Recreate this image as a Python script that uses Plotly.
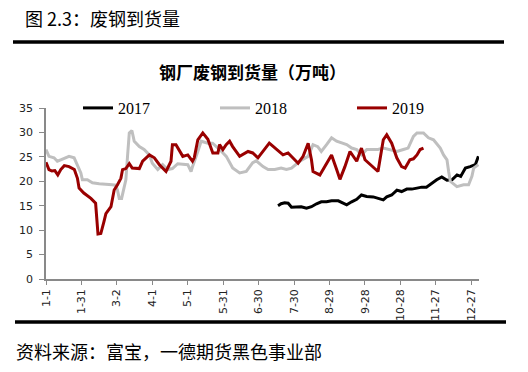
import plotly.graph_objects as go

# ---- data (day-of-year offsets from 1-1, values in 万吨) ----
tick_days = [0, 30, 60, 90, 120, 150, 180, 210, 240, 270, 300, 330, 360]
tick_labels = ["1-1", "1-31", "3-2", "4-1", "5-1", "5-31", "6-30", "7-30",
               "8-29", "9-28", "10-28", "11-27", "12-27"]

days_2017 = [196.4, 199, 202, 205, 207.8, 212, 216, 220.5, 224.7, 229, 233, 237.5,
             241.7, 247.4, 251.6, 254.5, 258.7, 263, 267, 271.4, 277, 281.3, 285.5,
             288.4, 292.6, 297, 301, 305.4, 309.6, 314, 318, 322, 326.4, 330.7, 335,
             339.4, 343.6, 347.9, 351, 355, 359, 363.4, 366]
vals_2017 = [15.0, 15.4, 15.6, 15.5, 14.7, 14.8, 14.8, 14.5, 14.8, 15.4, 15.8, 15.8,
             16.0, 16.0, 15.6, 15.2, 15.8, 16.3, 17.2, 16.9, 16.8, 16.5, 16.2,
             16.8, 17.2, 18.2, 17.9, 18.4, 18.4, 18.6, 18.8, 18.8, 19.6, 20.3, 20.9,
             20.2, 20.3, 21.3, 21.0, 22.7, 23.0, 23.4, 25.1]

days_2018 = [0, 2.5, 6.8, 9.6, 12.5, 16.7, 19.5, 23.8, 26.6, 29.5, 30.8, 35, 39.3, 45,
             56, 59, 60.5, 62, 64, 66.3, 67.6, 69, 70.5, 72.7, 74.7, 79, 83, 87.5, 90,
             94.6, 98.7, 103, 107, 111.5, 117, 120, 122.8, 124, 128.5, 131.3, 137, 141,
             147, 152.6, 158, 163.9, 169.5, 175, 178, 183.7, 188, 193.6, 199, 203.5,
             207.8, 214.8, 221.9, 226, 230, 233, 237.5, 241.7, 246, 250, 254.5, 258.7,
             263, 267, 271.5, 277, 281, 285.5, 291, 297, 302.5, 306.5, 311, 314, 319.5,
             323.7, 328, 333.7, 336.5, 339.4, 340.8, 342.2, 347.8, 353.4, 357.7, 360.5,
             362, 366]
vals_2018 = [26.5, 25.1, 24.8, 24.1, 24.4, 24.8, 25.1, 24.8, 23.4, 21.7, 20.3, 20.3, 19.7, 19.5,
             19.3, 19.2, 18.2, 16.5, 16.5, 18.9, 20.3, 25.1, 29.9, 30.4, 28.2, 27.1, 26.5, 25.4, 23.7,
             22.4, 23.4, 22.4, 22.6, 23.6, 23.4, 23.4, 22.0, 23.0, 26.1, 28.2, 27.8, 27.8,
             26.5, 25.1, 22.7, 21.7, 22.0, 23.8, 24.2, 23.0, 22.4, 22.4, 22.7, 22.4,
             22.7, 24.1, 25.1, 27.5, 27.1, 26.1, 27.5, 28.9, 28.2, 27.8, 27.5, 26.8,
             26.5, 25.4, 26.5, 26.5, 26.5, 26.8, 26.5, 26.1, 26.5, 26.8, 29.2, 29.9, 29.9,
             28.9, 28.5, 26.8, 25.4, 24.4, 22.0, 20.0, 18.9, 19.3, 19.3, 21.0,
             22.7, 23.4]

days_2019 = [0, 2.5, 5, 7.5, 10, 12.5, 15.5, 19.5, 24, 26.6, 28, 32, 38, 42, 44, 46.4, 49,
             50.7, 55, 57.7, 60.5, 63.4, 64.8, 67.6, 70.5, 73, 79, 81.8, 87.5, 91.7, 96,
             101.6, 105.8, 107, 110, 113, 115.8, 120, 124, 125.5, 128.5, 132.7, 137, 141.2,
             145.5, 146.9, 149.7, 152.5, 155.4, 158, 163.9, 171, 175, 179.4, 183.7, 189,
             190.5, 195, 200.6, 204.9, 207.8, 213.4, 217.6, 221.9, 224.7, 226, 231.8, 236,
             241.7, 246, 248.8, 253, 257.3, 263, 267, 270, 281, 285.5, 288.4, 292.6, 296.9,
             301, 304, 308, 311, 314, 316.7, 319.5]
vals_2019 = [23.9, 22.4, 22.1, 22.2, 21.3, 22.4, 23.2, 23.0, 22.4, 20.6, 18.6, 17.6, 16.5,
             15.5, 9.2, 9.3, 11.7, 13.4, 14.8, 18.2, 19.3, 20.6, 22.4, 22.6, 23.6, 22.7,
             22.6, 24.1, 25.4, 24.8, 23.4, 22.0, 24.1, 27.5, 27.5, 26.1, 25.1, 25.4, 24.1,
             24.8, 28.5, 29.9, 28.6, 25.8, 25.8, 27.5, 26.5, 27.5, 28.2, 27.1, 25.1, 26.1,
             25.8, 24.8, 26.1, 27.8, 27.5, 26.5, 25.4, 25.8, 25.1, 23.7, 25.1, 27.8, 24.4,
             22.0, 21.3, 23.0, 25.4, 22.4, 20.4, 23.0, 26.1, 24.1, 26.8, 24.4, 22.0, 28.5,
             29.5, 27.8, 24.8, 23.0, 22.7, 24.4, 24.6, 25.4, 26.5, 26.8]

# ---- layout geometry (pixels) ----
W, H = 528, 372
ML, MR, MT, MB = 46, 49, 108, 93
PW, PH = W - ML - MR, H - MT - MB


def px_x(px):
    return (px - ML) / PW


def px_y(py):
    return (H - MB - py) / PH


fig = go.Figure()
fig.add_trace(go.Scatter(x=days_2017, y=vals_2017, name="2017", mode="lines",
                         line=dict(color="#000000", width=3)))
fig.add_trace(go.Scatter(x=days_2018, y=vals_2018, name="2018", mode="lines",
                         line=dict(color="#BFBFBF", width=3)))
fig.add_trace(go.Scatter(x=days_2019, y=vals_2019, name="2019", mode="lines",
                         line=dict(color="#990000", width=3)))

axis_color = "#898989"
fig.update_layout(
    width=W, height=H,
    margin=dict(l=ML, r=MR, t=MT, b=MB, pad=0),
    paper_bgcolor="white", plot_bgcolor="white",
    showlegend=True,
    legend=dict(orientation="h", x=px_x(78), xanchor="left", y=px_y(108), yanchor="middle",
                font=dict(family="Liberation Serif", size=16, color="#000"),
                entrywidth=92, entrywidthmode="pixels", bgcolor="rgba(0,0,0,0)",
                traceorder="normal", itemwidth=30),
    xaxis=dict(range=[0, 366.5], tickvals=tick_days, ticktext=tick_labels,
               tickangle=-90, showgrid=False, zeroline=False, showline=True,
               linecolor=axis_color, linewidth=1.5, ticks="outside", ticklen=4,
               tickcolor=axis_color, tickwidth=1,
               tickfont=dict(family="DejaVu Sans", size=11, color="#222")),
    yaxis=dict(range=[0, 35], tickvals=[0, 5, 10, 15, 20, 25, 30, 35], showgrid=False,
               zeroline=False, showline=True, linecolor=axis_color, linewidth=1.5,
               ticks="outside", ticklen=5, tickcolor=axis_color, tickwidth=1,
               ticklabelstandoff=4,
               tickfont=dict(family="DejaVu Sans", size=11, color="#222")),
    shapes=[
        dict(type="line", xref="paper", yref="paper", x0=px_x(13), x1=px_x(504),
             y0=px_y(42), y1=px_y(42), line=dict(color="black", width=3.5)),
        dict(type="line", xref="paper", yref="paper", x0=px_x(15), x1=px_x(506),
             y0=px_y(322), y1=px_y(322), line=dict(color="black", width=3.5)),
    ],
    annotations=[
        dict(text="图 2.3：废钢到货量", xref="paper", yref="paper", x=px_x(23), y=px_y(18),
             xanchor="left", yanchor="middle", showarrow=False,
             font=dict(family="Noto Sans CJK SC", size=18, color="#000")),
        dict(text="<b>钢厂废钢到货量（万吨）</b>", xref="paper", yref="paper", x=px_x(252),
             y=px_y(71), xanchor="center", yanchor="middle", showarrow=False,
             font=dict(family="Noto Sans CJK SC", size=17, color="#000")),
        dict(text="资料来源：富宝，一德期货黑色事业部", xref="paper", yref="paper", x=px_x(14),
             y=px_y(351), xanchor="left", yanchor="middle", showarrow=False,
             font=dict(family="Noto Sans CJK SC", size=18, color="#000")),
    ],
)

fig.write_html("out.html", config={"displayModeBar": False},
               post_script="document.body.style.margin='0';")
